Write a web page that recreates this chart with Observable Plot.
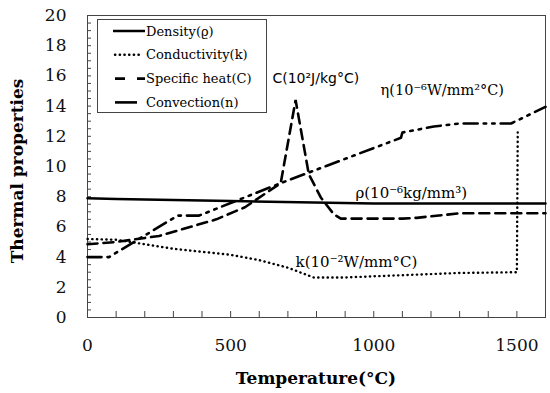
<!DOCTYPE html>
<html><head><meta charset="utf-8">
<script src="https://cdn.jsdelivr.net/npm/d3@7"></script>
<script src="https://cdn.jsdelivr.net/npm/@observablehq/plot@0.6"></script>
<style>body{margin:0;background:#fff}</style>
</head><body><div id="chart"></div>
<script>
// Data
const densityT = [0, 100, 550, 1000, 1600];
const densityV = [7.9, 7.85, 7.7, 7.55, 7.55];

const conductT = [0, 100, 300, 500, 600, 700, 790, 900, 1100, 1300, 1500, 1503];
const conductV = [5.2, 5.15, 4.55, 4.15, 3.8, 3.3, 2.65, 2.65, 2.8, 2.95, 3.0, 12.25];

const heatT = [0, 100, 250, 450, 550, 675, 727, 773, 815, 860, 885, 1100, 1150, 1300, 1600];
const heatV = [4.85, 5.0, 5.4, 6.5, 7.3, 8.9, 14.4, 9.5, 7.95, 6.85, 6.55, 6.55, 6.6, 6.9, 6.9];

const convT = [0, 75, 315, 390, 675, 1095, 1100, 1210, 1300, 1480, 1600];
const convV = [4.0, 4.0, 6.75, 6.75, 8.9, 11.9, 12.25, 12.65, 12.85, 12.85, 13.95];

const xTickLabels = [0, 500, 1000, 1500];
const yTickLabels = [0, 2, 4, 6, 8, 10, 12, 14, 16, 18, 20];
const legendNames = ["Density(ϱ)", "Conductivity(k)", "Specific heat(C)", "Convection(n)"];

const zip = (T, V) => T.map((t, i) => ({t, v: V[i]}));
const density = zip(densityT, densityV);
const conduct = zip(conductT, conductV);
const heat = zip(heatT, heatV);
const conv = zip(convT, convV);

const W = 550, H = 393, mL = 87, mR = 5, mT = 15, mB = 76;
const pw = W - mL - mR, ph = H - mT - mB;
const serif = "DejaVu Serif";

const chart = Plot.plot({
  width: W, height: H,
  marginLeft: mL, marginRight: mR, marginTop: mT, marginBottom: mB,
  style: {fontFamily: "'DejaVu Serif', serif", fontSize: "17px", background: "#fff", color: "#111"},
  x: {domain: [0, 1600]},
  y: {domain: [0, 20]},
  marks: [
    Plot.tickY(d3.range(0.5, 20, 0.5), {y: d => d, insetRight: pw - 4, stroke: "#444", strokeWidth: 1}),
    Plot.tickX(d3.range(100, 1600, 100), {x: d => d, insetTop: ph - 6, stroke: "#444", strokeWidth: 1}),
    Plot.axisY({ticks: yTickLabels, tickSize: 0, tickPadding: 21, label: null, fontSize: 17, tickFormat: d => String(d)}),
    Plot.axisX({ticks: xTickLabels, tickSize: 0, tickPadding: 21, label: null, fontSize: 17, tickFormat: d => String(d)}),
    Plot.frame({stroke: "#444", strokeWidth: 1}),
    Plot.line(density, {x: "t", y: "v", stroke: "#000", strokeWidth: 2.5}),
    Plot.line(conduct, {x: "t", y: "v", stroke: "#000", strokeWidth: 2.4, strokeDasharray: "0.3 4.4", strokeLinecap: "round"}),
    Plot.line(heat, {x: "t", y: "v", stroke: "#000", strokeWidth: 2.6, strokeDasharray: "10 6", strokeLinejoin: "miter"}),
    Plot.line(conv, {x: "t", y: "v", stroke: "#000", strokeWidth: 2.6, strokeDasharray: "14 6 2.5 6 2.5 6"}),
    Plot.text(["C(10²J/kg°C)"], {x: 646, y: 15.8, text: d => d, textAnchor: "start", fontFamily: "DejaVu Sans", fontSize: 14, fill: "#000"}),
    Plot.text(["η(10⁻⁶W/mm²°C)"], {x: 1024, y: 15.03, text: d => d, textAnchor: "start", fontFamily: serif, fontSize: 14.5, fill: "#000"}),
    Plot.text(["ρ(10⁻⁶kg/mm³)"], {x: 936, y: 8.2, text: d => d, textAnchor: "start", fontFamily: serif, fontSize: 15, fill: "#000"}),
    Plot.text(["k(10⁻²W/mm°C)"], {x: 727, y: 3.64, text: d => d, textAnchor: "start", fontFamily: serif, fontSize: 15, fill: "#000"})
  ]
});

document.getElementById("chart").appendChild(chart);

const svg = d3.select(chart);
// Axis titles
svg.append("text").attr("x", mL + pw / 2).attr("y", 378).attr("dy", "0.35em")
  .attr("text-anchor", "middle").style("font-family", "'DejaVu Serif', serif").style("font-weight", "bold")
  .style("font-size", "17px").attr("fill", "#000").text("Temperature(°C)");
svg.append("text").attr("transform", "translate(17,171) rotate(-90)").attr("dy", "0.35em")
  .attr("text-anchor", "middle").style("font-family", "'DejaVu Serif', serif").style("font-weight", "bold")
  .style("font-size", "17px").attr("fill", "#000").text("Thermal properties");

// Legend box inside the plot
const lg = svg.append("g");
lg.append("rect").attr("x", 97.5).attr("y", 19.5).attr("width", 169).attr("height", 93)
  .attr("fill", "#fff").attr("stroke", "#444").attr("stroke-width", 1);
const styles = [
  {x1: 113, x2: 145, dash: null, w: 2.5, cap: "butt"},
  {x1: 115, x2: 141, dash: "0.3 4.4", w: 2.4, cap: "round"},
  {x1: 115, x2: 145, dash: "10 12", w: 2.6, cap: "butt"},
  {x1: 115, x2: 137, dash: null, w: 2.6, cap: "butt"}
];
legendNames.forEach((name, i) => {
  const cy = 31 + i * 23.8;
  const s = styles[i];
  const ln = lg.append("line").attr("x1", s.x1).attr("x2", s.x2).attr("y1", cy).attr("y2", cy)
    .attr("stroke", "#000").attr("stroke-width", s.w).attr("stroke-linecap", s.cap);
  if (s.dash) ln.attr("stroke-dasharray", s.dash);
  lg.append("text").attr("x", 146).attr("y", cy).attr("dy", "0.35em").attr("text-anchor", "start")
    .style("font-family", "'DejaVu Serif', serif").style("font-size", "13px").attr("fill", "#000").text(name);
});
</script>
</body></html>
